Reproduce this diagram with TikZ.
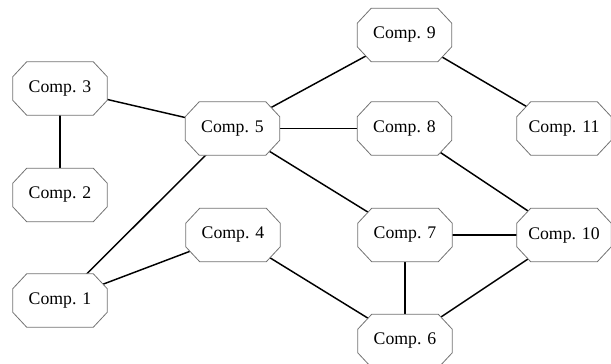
\documentclass[tikz,border=0pt]{standalone}
\usepackage{fontspec}
\setmainfont{Liberation Serif}
\usetikzlibrary{calc}
\pgfdeclarelayer{edges}
\pgfdeclarelayer{octs}
\pgfsetlayers{edges,octs,main}
\newcommand\octa[1]{%
  \path[octline] ($(#1.north west)+(10.5pt,0)$) -- ($(#1.north east)+(-10.5pt,0)$)
    -- ($(#1.north east)+(0,-11.25pt)$) -- ($(#1.south east)+(0,11.25pt)$)
    -- ($(#1.south east)+(-10.5pt,0)$) -- ($(#1.south west)+(10.5pt,0)$)
    -- ($(#1.south west)+(0,11.25pt)$) -- ($(#1.north west)+(0,-11.25pt)$) -- cycle;}
\begin{document}
\begin{tikzpicture}[x=0.75pt,y=-0.75pt,
  comp/.style={rectangle, minimum width=70.5pt, minimum height=39.75pt,
    inner sep=0pt, font=\fontsize{13.3}{15}\selectfont},
  octline/.style={draw=black!55, line width=0.6pt, fill=white},
  link/.style={draw=black, line width=1.1pt}]
\useasboundingbox (0,0) rectangle (611,364);
\node[comp] (c3) at (60,88.5) {Comp. 3};
\node[comp] (c2) at (60,195) {Comp. 2};
\node[comp] (c5) at (232.5,128.5) {Comp. 5};
\node[comp] (c9) at (404.5,35) {Comp. 9};
\node[comp] (c8) at (404.5,128.5) {Comp. 8};
\node[comp] (c11) at (564,128.5) {Comp. 11};
\node[comp] (c1) at (60,300.5) {Comp. 1};
\node[comp] (c4) at (233,235) {Comp. 4};
\node[comp] (c7) at (405,235) {Comp. 7};
\node[comp] (c10) at (564,235) {Comp. 10};
\node[comp] (c6) at (405,341) {Comp. 6};
\begin{pgfonlayer}{octs}
\foreach \n in {c1,c2,c3,c4,c5,c6,c7,c8,c9,c10,c11} {\octa{\n}}
\end{pgfonlayer}
\begin{pgfonlayer}{edges}
\draw[link] (c3.center) -- (c2.center);
\draw[link] (c3.center) -- (c5.center);
\draw[link] (c5.center) -- (c9.center);
\draw[link] (c5.center) -- (c8.center);
\draw[link] (c5.center) -- (c7.center);
\draw[link] (c5.center) -- (c1.center);
\draw[link] (c1.center) -- (c4.center);
\draw[link] (c4.center) -- (c6.center);
\draw[link] (c7.center) -- (c6.center);
\draw[link] (c7.center) -- (c10.center);
\draw[link] (c10.center) -- (c6.center);
\draw[link] (c9.center) -- (c11.center);
\draw[link] (c8.center) -- (c10.center);
\end{pgfonlayer}
\end{tikzpicture}
\end{document}
